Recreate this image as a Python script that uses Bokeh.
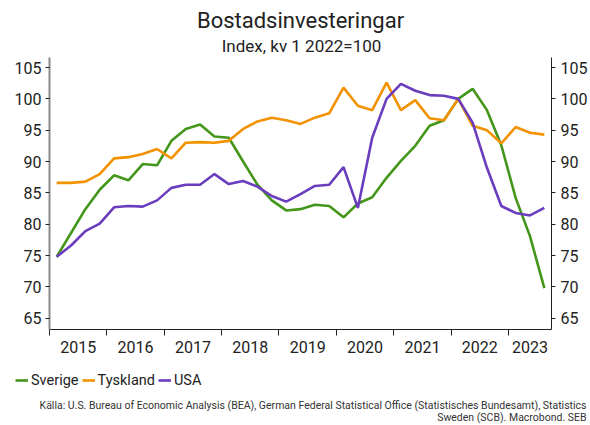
from bokeh.plotting import figure
from bokeh.layouts import column
from bokeh.models import Range1d, LinearAxis, FixedTicker, Legend, LegendItem
from bokeh.core.properties import value
from bokeh.embed import file_html
from bokeh.resources import INLINE

# ---- data (quarterly, 2015Q1 .. 2023Q3) ----
quarters = ["2015Q1", "2015Q2", "2015Q3", "2015Q4",
            "2016Q1", "2016Q2", "2016Q3", "2016Q4",
            "2017Q1", "2017Q2", "2017Q3", "2017Q4",
            "2018Q1", "2018Q2", "2018Q3", "2018Q4",
            "2019Q1", "2019Q2", "2019Q3", "2019Q4",
            "2020Q1", "2020Q2", "2020Q3", "2020Q4",
            "2021Q1", "2021Q2", "2021Q3", "2021Q4",
            "2022Q1", "2022Q2", "2022Q3", "2022Q4",
            "2023Q1", "2023Q2", "2023Q3"]

sverige = [74.8, 78.6, 82.4, 85.5, 87.8, 87.0, 89.6, 89.4,
           93.3, 95.2, 95.9, 94.0, 93.8, 90.0, 86.3, 83.8,
           82.2, 82.4, 83.1, 82.9, 81.1, 83.3, 84.3, 87.4,
           90.1, 92.5, 95.7, 96.6, 100.0, 101.6, 98.2, 92.6,
           84.2, 78.1, 69.8]

tyskland = [86.6, 86.6, 86.8, 88.0, 90.5, 90.7, 91.2, 92.0,
            90.5, 93.0, 93.1, 93.0, 93.3, 95.2, 96.4, 97.0,
            96.6, 96.0, 97.0, 97.7, 101.8, 98.9, 98.2, 102.6,
            98.2, 99.8, 96.9, 96.6, 100.0, 95.7, 95.0, 92.9,
            95.5, 94.6, 94.3]

usa = [74.8, 76.6, 78.9, 80.1, 82.7, 82.9, 82.8, 83.8,
       85.8, 86.3, 86.3, 88.0, 86.4, 86.9, 86.0, 84.5,
       83.6, 84.8, 86.1, 86.3, 89.1, 82.6, 93.8, 100.0,
       102.4, 101.3, 100.6, 100.5, 100.0, 96.2, 89.0, 82.9,
       81.8, 81.4, 82.6]

year_labels = ["2015", "2016", "2017", "2018", "2019", "2020", "2021", "2022", "2023"]
y_ticks = [65, 70, 75, 80, 85, 90, 95, 100, 105]

series_names = ["Sverige", "Tyskland", "USA"]
series_colors = ["#43961a", "#f39200", "#6a3dbf"]

title_text = "Bostadsinvesteringar"
subtitle_text = "Index, kv 1 2022=100"
source_1 = "Källa: U.S. Bureau of Economic Analysis (BEA), German Federal Statistical Office (Statistisches Bundesamt), Statistics"
source_2 = "Sweden (SCB). Macrobond. SEB"

# ---- helpers ----
def q_to_x(q):
    yr = int(q[:4]); qq = int(q[-1])
    return yr + (qq - 1) / 4 + 0.125

xs = [q_to_x(q) for q in quarters]
x_end = xs[-1] + 0.125
year_starts = [float(y) for y in year_labels]
label_pos = [y + 0.5 if y + 1 <= x_end else (y + x_end) / 2 for y in year_starts]

FONT = "Roboto"
TXT = "#222222"
W = 590


def no_align(f):
    try:
        f.frame_align = False
    except Exception:
        pass
    return f


def text_panel(h):
    f = figure(width=W, height=h, output_backend="svg", toolbar_location=None,
               x_range=Range1d(0, W), y_range=Range1d(h, 0),
               x_axis_type=None, y_axis_type=None,
               min_border=0, min_border_left=0, min_border_right=0,
               min_border_top=0, min_border_bottom=0)
    f.outline_line_color = None
    f.xgrid.visible = False
    f.ygrid.visible = False
    return no_align(f)

# ---- top: title + subtitle ----
top = text_panel(57)
top.text(x=[300], y=[20], text=[title_text], text_align="center", text_baseline="middle",
         text_font=value(FONT), text_font_size="22px", text_color=TXT)
top.text(x=[301], y=[45], text=[subtitle_text], text_align="center", text_baseline="middle",
         text_font=value(FONT), text_font_size="17px", text_color=TXT)

# ---- main chart ----
p = figure(width=W, height=305, output_backend="svg", toolbar_location=None,
           x_range=Range1d(year_starts[0], x_end), y_range=Range1d(63.2, 106.6),
           min_border_left=49, min_border_right=35, min_border_top=0, min_border_bottom=33)
p.outline_line_color = None
p.xgrid.visible = False
p.ygrid.visible = False
no_align(p)

for name, vals, col in zip(series_names, [sverige, tyskland, usa], series_colors):
    p.line(xs, vals, line_color=col, line_width=2.6)

ya = p.yaxis[0]
ya.ticker = FixedTicker(ticks=y_ticks)
ya.axis_line_color = "#8a8a8a"
ya.axis_line_width = 2
ya.major_tick_out = 4
ya.major_tick_in = 0
ya.major_tick_line_color = TXT
ya.minor_tick_line_color = None
ya.major_label_text_font = FONT
ya.major_label_text_font_size = "16px"
ya.major_label_text_color = TXT
ya.major_label_standoff = 4

ra = LinearAxis(ticker=FixedTicker(ticks=y_ticks))
ra.axis_line_color = TXT
ra.axis_line_width = 1
ra.major_tick_out = 4
ra.major_tick_in = 0
ra.major_tick_line_color = TXT
ra.minor_tick_line_color = None
ra.major_label_text_font = FONT
ra.major_label_text_font_size = "16px"
ra.major_label_text_color = TXT
ra.major_label_standoff = 5
p.add_layout(ra, "right")

xa = p.xaxis[0]
xa.ticker = FixedTicker(ticks=label_pos, minor_ticks=year_starts)
xa.major_label_overrides = {pos: lab for pos, lab in zip(label_pos, year_labels)}
xa.axis_line_color = TXT
xa.major_tick_line_color = None
xa.major_tick_out = 6
xa.major_tick_in = 0
xa.minor_tick_line_color = TXT
xa.minor_tick_out = 6
xa.minor_tick_in = 0
xa.major_label_text_font = FONT
xa.major_label_text_font_size = "16px"
xa.major_label_text_color = TXT
xa.major_label_standoff = 5

# ---- bottom: legend + source ----
bot = text_panel(63)
items = []
for name, col in zip(series_names, series_colors):
    # legend-only renderer, its points lie outside the visible range
    r = bot.line(x=[-50, -40], y=[-50, -50], line_color=col, line_width=2.6)
    items.append(LegendItem(label=name, renderers=[r]))
legend = Legend(items=items, orientation="horizontal", location=(15, 36),
                label_text_font=FONT, label_text_font_size="14.5px", label_text_color=TXT,
                glyph_width=13, glyph_height=18, spacing=3, label_standoff=3,
                padding=0, margin=0, border_line_color=None, background_fill_alpha=0)
bot.add_layout(legend, "center")

bot.text(x=[586], y=[43], text=[source_1], text_align="right", text_baseline="middle",
         text_font=value(FONT), text_font_size="10.5px", text_color="#333333")
bot.text(x=[586], y=[55], text=[source_2], text_align="right", text_baseline="middle",
         text_font=value(FONT), text_font_size="10.5px", text_color="#333333")

layout = column(top, p, bot, spacing=0)
open("out.html", "w").write(file_html(layout, INLINE))
